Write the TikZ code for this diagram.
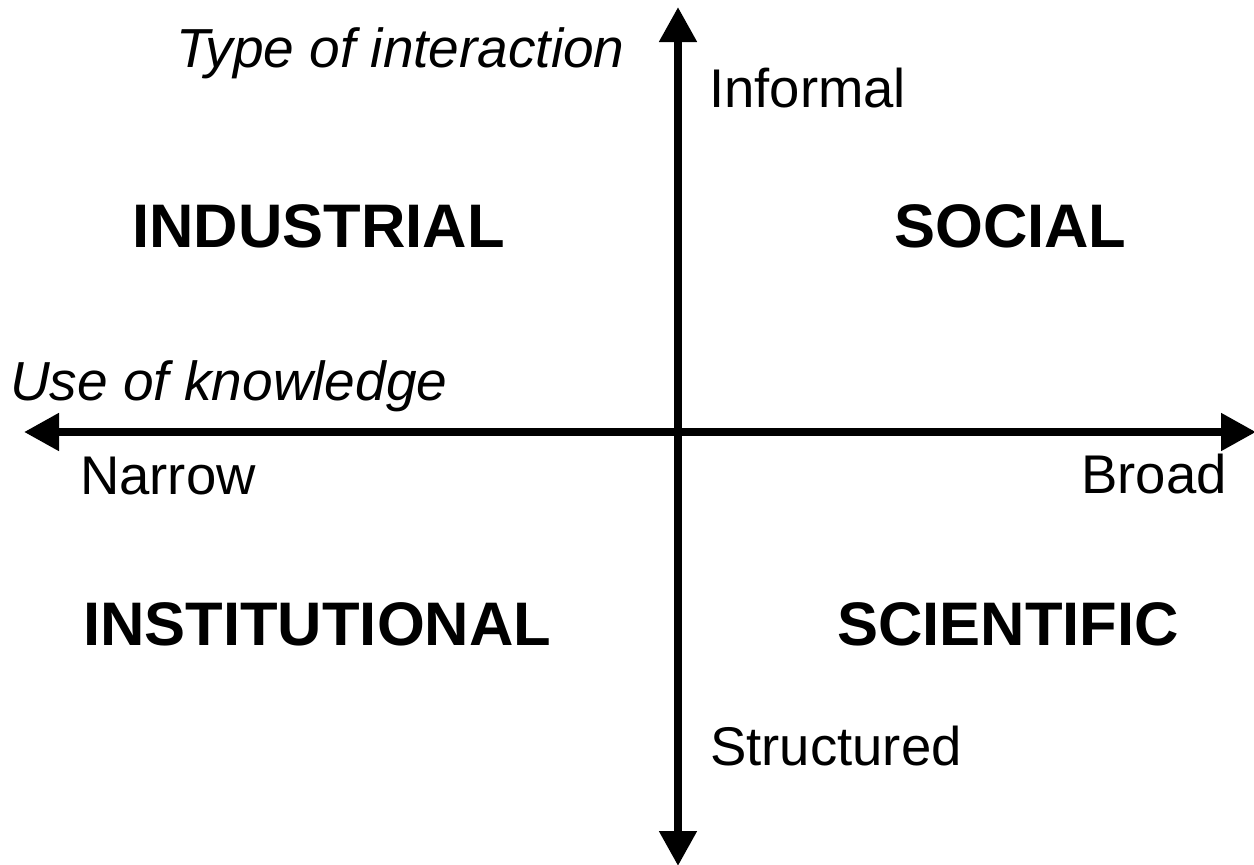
\documentclass[tikz,border=0pt]{standalone}
\usepackage{fontspec}
\setmainfont{Liberation Sans}
\usetikzlibrary{arrows.meta}
\tikzset{
  axis/.style={line width=8pt, {Triangle[length=35pt,width=36pt]}-{Triangle[length=35pt,width=36pt]}},
  quad/.style={anchor=base west, inner sep=0pt, font=\fontsize{61.5pt}{61.5pt}\selectfont\bfseries},
  lbl/.style={anchor=base west, inner sep=0pt, font=\fontsize{54.5pt}{54.5pt}\selectfont},
  ttl/.style={anchor=base west, inner sep=0pt, font=\fontsize{55pt}{55pt}\selectfont\itshape},
}
\begin{document}
\begin{tikzpicture}[x=1pt,y=-1pt]
\useasboundingbox (0,0) rectangle (1254,865);
\coordinate (top) at (678,7);
\coordinate (bottom) at (678,866);
\coordinate (left) at (24,432);
\coordinate (right) at (1256,432);
\draw[axis] (bottom) -- (top);
\draw[axis] (left) -- (right);
\node[ttl] (toi) at (176,67) {Type of interaction};
\node[ttl] (uok) at (10,400) {Use of knowledge};
\node[lbl] (inf) at (709,107) {Informal};
\node[lbl] (str) at (710,765) {Structured};
\node[lbl] (nar) at (80,494) {Narrow};
\node[lbl, anchor=base east] (bro) at (1227,493) {Broad};
\node[quad] (ind) at (132,247) {INDUSTRIAL};
\node[quad] (soc) at (894,247) {SOCIAL};
\node[quad] (ins) at (83,645) {INSTITUTIONAL};
\node[quad] (sci) at (837,645) {SCIENTIFIC};
\end{tikzpicture}
\end{document}
